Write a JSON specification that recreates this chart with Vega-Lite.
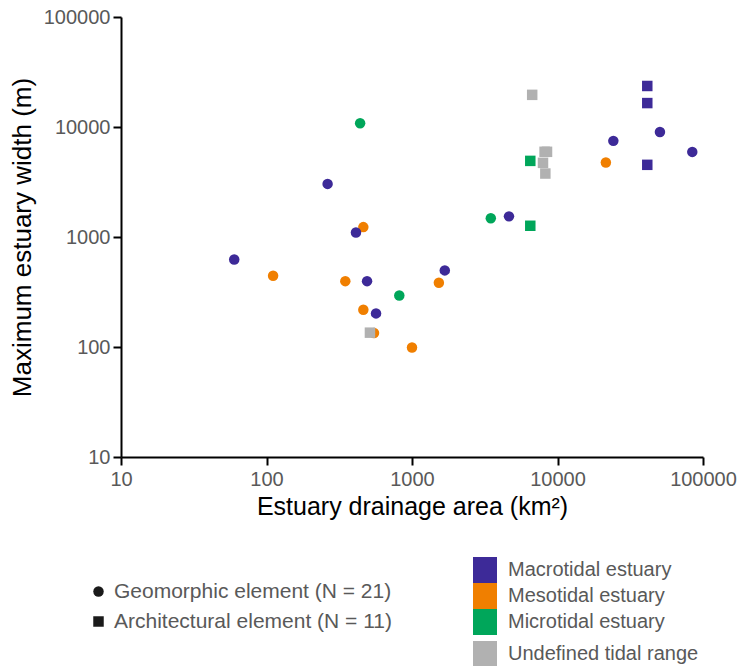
{
  "$schema": "https://vega.github.io/schema/vega-lite/v6.json",
  "width": 582,
  "height": 440,
  "autosize": "none",
  "padding": {"left": 121, "top": 17, "right": 53, "bottom": 209},
  "background": "white",
  "config": {
    "view": {"stroke": null},
    "font": "Liberation Sans",
    "point": {"size": 110},
    "axis": {
      "grid": false,
      "domainColor": "#000000",
      "domainWidth": 2,
      "tickColor": "#000000",
      "tickWidth": 2,
      "tickSize": 8,
      "labelFont": "Liberation Sans",
      "labelFontSize": 20,
      "labelColor": "#595959",
      "titleFont": "Liberation Sans",
      "titleFontSize": 25,
      "titleFontWeight": "normal",
      "titleColor": "#000000"
    },
    "legend": {
      "labelFont": "Liberation Sans",
      "labelColor": "#595959",
      "labelLimit": 400
    }
  },
  "data": {
    "values": [
      {"area": 111, "width": 445, "tide": "Mesotidal estuary", "element": "Geomorphic element"},
      {"area": 348, "width": 397, "tide": "Mesotidal estuary", "element": "Geomorphic element"},
      {"area": 463, "width": 1230, "tide": "Mesotidal estuary", "element": "Geomorphic element"},
      {"area": 463, "width": 218, "tide": "Mesotidal estuary", "element": "Geomorphic element"},
      {"area": 548, "width": 134, "tide": "Mesotidal estuary", "element": "Geomorphic element"},
      {"area": 1000, "width": 99, "tide": "Mesotidal estuary", "element": "Geomorphic element"},
      {"area": 1530, "width": 384, "tide": "Mesotidal estuary", "element": "Geomorphic element"},
      {"area": 21500, "width": 4750, "tide": "Mesotidal estuary", "element": "Geomorphic element"},
      {"area": 440, "width": 10800, "tide": "Microtidal estuary", "element": "Geomorphic element"},
      {"area": 818, "width": 294, "tide": "Microtidal estuary", "element": "Geomorphic element"},
      {"area": 3480, "width": 1480, "tide": "Microtidal estuary", "element": "Geomorphic element"},
      {"area": 60, "width": 625, "tide": "Macrotidal estuary", "element": "Geomorphic element"},
      {"area": 263, "width": 3040, "tide": "Macrotidal estuary", "element": "Geomorphic element"},
      {"area": 412, "width": 1100, "tide": "Macrotidal estuary", "element": "Geomorphic element"},
      {"area": 491, "width": 397, "tide": "Macrotidal estuary", "element": "Geomorphic element"},
      {"area": 566, "width": 202, "tide": "Macrotidal estuary", "element": "Geomorphic element"},
      {"area": 1680, "width": 497, "tide": "Macrotidal estuary", "element": "Geomorphic element"},
      {"area": 4640, "width": 1540, "tide": "Macrotidal estuary", "element": "Geomorphic element"},
      {"area": 24200, "width": 7480, "tide": "Macrotidal estuary", "element": "Geomorphic element"},
      {"area": 50600, "width": 9020, "tide": "Macrotidal estuary", "element": "Geomorphic element"},
      {"area": 84400, "width": 5940, "tide": "Macrotidal estuary", "element": "Geomorphic element"},
      {"area": 41400, "width": 23600, "tide": "Macrotidal estuary", "element": "Architectural element"},
      {"area": 41400, "width": 16500, "tide": "Macrotidal estuary", "element": "Architectural element"},
      {"area": 41400, "width": 4530, "tide": "Macrotidal estuary", "element": "Architectural element"},
      {"area": 6500, "width": 4920, "tide": "Microtidal estuary", "element": "Architectural element"},
      {"area": 6500, "width": 1265, "tide": "Microtidal estuary", "element": "Architectural element"},
      {"area": 6700, "width": 19600, "tide": "Undefined tidal range", "element": "Architectural element"},
      {"area": 514, "width": 135, "tide": "Undefined tidal range", "element": "Architectural element"},
      {"area": 8150, "width": 5950, "tide": "Undefined tidal range", "element": "Architectural element"},
      {"area": 8470, "width": 5950, "tide": "Undefined tidal range", "element": "Architectural element"},
      {"area": 7950, "width": 4720, "tide": "Undefined tidal range", "element": "Architectural element"},
      {"area": 8250, "width": 3775, "tide": "Undefined tidal range", "element": "Architectural element"}
    ]
  },
  "encoding": {
    "x": {
      "field": "area", "type": "quantitative",
      "scale": {"type": "log", "domain": [10, 100000], "nice": false},
      "axis": {"values": [10, 100, 1000, 10000, 100000], "format": "d", "labelFlush": false, "labelPadding": 4, "title": "Estuary drainage area (km²)", "titlePadding": 5}
    },
    "y": {
      "field": "width", "type": "quantitative",
      "scale": {"type": "log", "domain": [10, 100000], "nice": false},
      "axis": {"values": [10, 100, 1000, 10000, 100000], "format": "d", "labelFlush": false, "labelPadding": 3, "title": "Maximum estuary width (m)", "titlePadding": 8, "titleFontSize": 26}
    },
    "shape": {
      "field": "element", "type": "nominal",
      "scale": {"domain": ["Geomorphic element", "Architectural element"], "range": ["circle", "square"]},
      "legend": {
        "title": null, "orient": "none", "legendX": -33, "legendY": 564,
        "labelExpr": "datum.label == 'Geomorphic element' ? 'Geomorphic element (N = 21)' : 'Architectural element (N = 11)'",
        "labelFontSize": 21, "symbolSize": 110, "symbolFillColor": "#1a1a1a", "symbolStrokeWidth": 0,
        "rowPadding": 8, "labelOffset": 5
      }
    }
  },
  "layer": [
    {
      "transform": [{"filter": "datum.tide != 'Undefined tidal range'"}],
      "mark": {"type": "point", "filled": true, "opacity": 1},
      "encoding": {
        "color": {
          "field": "tide", "type": "nominal",
          "scale": {"domain": ["Macrotidal estuary", "Mesotidal estuary", "Microtidal estuary"], "range": ["#3d2a98", "#f07f00", "#00a65a"]},
          "legend": {
            "title": null, "orient": "none", "legendX": 351, "legendY": 540,
            "labelFontSize": 20, "rowPadding": 0, "labelOffset": 10,
            "symbolType": "M-1,-1.0833H1V1.0833H-1Z", "symbolSize": 576,
            "encode": {"symbols": {
              "shape": {"value": "M-1,-1.0833H1V1.0833H-1Z"},
              "size": {"value": 576},
              "stroke": {"value": "#222222"},
              "strokeWidth": {"value": 1.5}
            }}
          }
        }
      }
    },
    {
      "transform": [{"filter": "datum.tide == 'Undefined tidal range'"}],
      "mark": {"type": "point", "filled": true, "opacity": 1},
      "encoding": {
        "color": {
          "field": "tide", "type": "nominal",
          "scale": {"domain": ["Undefined tidal range"], "range": ["#b1b1b1"]},
          "legend": {
            "title": null, "orient": "none", "legendX": 351, "legendY": 624,
            "labelFontSize": 20, "rowPadding": 0, "labelOffset": 10,
            "symbolType": "M-1,-1.0833H1V1.0833H-1Z", "symbolSize": 576,
            "encode": {"symbols": {
              "shape": {"value": "M-1,-1.0833H1V1.0833H-1Z"},
              "size": {"value": 576},
              "stroke": {"value": "#555555"},
              "strokeWidth": {"value": 1.5}
            }}
          }
        }
      }
    }
  ],
  "resolve": {"scale": {"color": "independent"}}
}
